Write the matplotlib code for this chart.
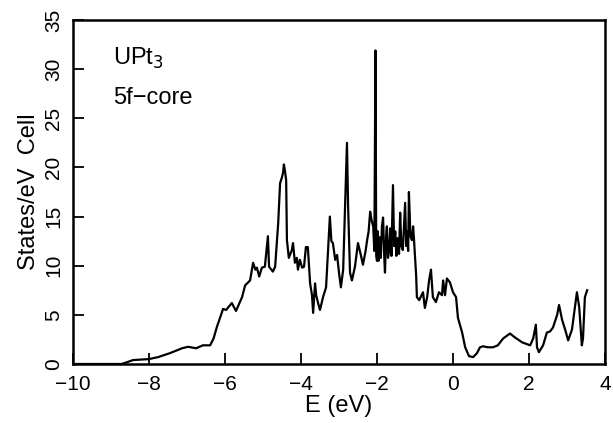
import matplotlib
matplotlib.use("Agg")
import matplotlib.pyplot as plt

# Density of states of UPt3 (5f electrons treated as core)
energy = [
    -10.0, -8.72, -8.6, -8.42, -8.0, -7.76, -7.45, -7.13, -6.97, -6.76,
    -6.58, -6.39, -6.3, -6.21, -6.05, -5.97, -5.82, -5.71, -5.55, -5.47,
    -5.34, -5.26, -5.2, -5.16, -5.1, -5.03, -4.95, -4.87, -4.84, -4.74,
    -4.68, -4.6, -4.55, -4.5, -4.47, -4.45, -4.42, -4.39, -4.37, -4.32,
    -4.24, -4.21, -4.16, -4.11, -4.08, -4.03, -3.97, -3.92, -3.87, -3.82,
    -3.76, -3.71, -3.68, -3.63, -3.6, -3.55, -3.5, -3.42, -3.34, -3.28,
    -3.24, -3.2, -3.16, -3.1, -3.05, -3.0, -2.95, -2.89, -2.84, -2.79,
    -2.76, -2.71, -2.66, -2.58, -2.5, -2.42, -2.37, -2.3, -2.26, -2.22,
    -2.18, -2.14, -2.1, -2.07, -2.04, -2.02, -2.0, -1.98, -1.96, -1.93,
    -1.9, -1.87, -1.84, -1.81, -1.79, -1.76, -1.74, -1.71, -1.68, -1.65,
    -1.62, -1.58, -1.55, -1.52, -1.49, -1.46, -1.42, -1.39, -1.36, -1.32,
    -1.29, -1.26, -1.23, -1.21, -1.18, -1.16, -1.12, -1.08, -1.05, -1.03,
    -1.0, -0.97, -0.95, -0.89, -0.79, -0.74, -0.68, -0.63, -0.58, -0.53,
    -0.45, -0.37, -0.29, -0.26, -0.21, -0.16, -0.08, 0.0, 0.08, 0.13,
    0.24, 0.32, 0.42, 0.53, 0.63, 0.71, 0.79, 0.92, 1.05, 1.18,
    1.32, 1.5, 1.63, 1.82, 2.03, 2.11, 2.18, 2.21, 2.26, 2.37,
    2.47, 2.55, 2.63, 2.74, 2.79, 2.87, 2.95, 3.03, 3.13, 3.26,
    3.32, 3.39, 3.42, 3.47, 3.53,
]
dos = [
    0.0, 0.0, 0.15, 0.4, 0.5, 0.7, 1.1, 1.6, 1.75, 1.6,
    1.9, 1.9, 2.6, 3.8, 5.6, 5.5, 6.2, 5.4, 6.8, 8.0,
    8.5, 10.3, 9.6, 9.8, 8.9, 9.8, 9.9, 13.0, 9.9, 9.4,
    9.9, 14.3, 18.4, 19.0, 19.5, 20.3, 19.6, 18.7, 12.6, 10.8,
    11.6, 12.3, 10.3, 10.8, 9.6, 10.6, 9.8, 9.9, 11.9, 11.9,
    8.2, 7.0, 5.2, 8.2, 7.0, 6.2, 5.5, 6.8, 7.8, 12.0,
    15.0, 12.5, 12.3, 10.6, 11.1, 9.3, 7.8, 9.6, 16.0, 22.5,
    16.0, 9.3, 8.5, 9.9, 12.3, 11.0, 10.1, 11.5, 12.6, 13.5,
    15.5, 14.6, 14.0, 11.5, 31.9, 11.0, 10.5, 13.5, 10.5, 12.9,
    10.8, 14.0, 14.9, 11.0, 9.3, 13.0, 14.0, 10.8, 11.6, 13.8,
    11.0, 18.2, 12.0, 13.5, 11.0, 12.8, 11.2, 15.4, 12.0, 11.6,
    14.0, 16.4, 12.0, 13.5, 11.5, 17.5, 13.0, 12.6, 14.0, 12.9,
    10.9, 9.0, 6.8, 6.5, 7.3, 5.7, 6.8, 8.5, 9.6, 6.8,
    6.3, 7.3, 7.0, 8.5, 7.0, 8.7, 8.3, 7.3, 6.8, 4.7,
    3.2, 1.7, 0.8, 0.7, 1.1, 1.7, 1.8, 1.7, 1.7, 1.9,
    2.6, 3.1, 2.7, 2.2, 1.9, 2.6, 4.0, 1.7, 1.2, 1.9,
    3.2, 3.3, 3.7, 5.0, 6.0, 4.5, 3.5, 2.4, 3.5, 7.3,
    5.8, 1.9, 2.6, 6.8, 7.5,
]

x_ticks = [-10, -8, -6, -4, -2, 0, 2, 4]
y_ticks = [0, 5, 10, 15, 20, 25, 30, 35]

plt.rcParams['font.family'] = ['Liberation Sans', 'DejaVu Sans']

fig = plt.figure(figsize=(6.13, 4.23), dpi=100)
ax = fig.add_axes([0.119, 0.1395, 0.868, 0.8132])

ax.plot(energy, dos, color='black', lw=1.6)

ax.set_xlim(-10, 4)
ax.set_ylim(0, 35)
ax.set_xticks(x_ticks)
ax.set_xticklabels([str(v).replace('-', '\u2212') for v in x_ticks])
ax.set_yticks(y_ticks)
ax.set_yticklabels([str(v) for v in y_ticks], rotation=90, va='center')

ax.tick_params(direction='in', length=8, width=1.3, labelsize=15,
               top=False, right=False)
ax.tick_params(axis='x', pad=8)
ax.tick_params(axis='y', pad=7)
for sp in ax.spines.values():
    sp.set_linewidth(1.8)

ax.set_xlabel('E (eV)', fontsize=17, labelpad=1)
ax.set_ylabel('States/eV  Cell', fontsize=17, labelpad=3)

ax.text(0.075, 0.87, r'UPt$_3$', transform=ax.transAxes, fontsize=17)
ax.text(0.075, 0.755, '5f\u2212core', transform=ax.transAxes, fontsize=17)

fig.savefig('out.png', dpi=100)
